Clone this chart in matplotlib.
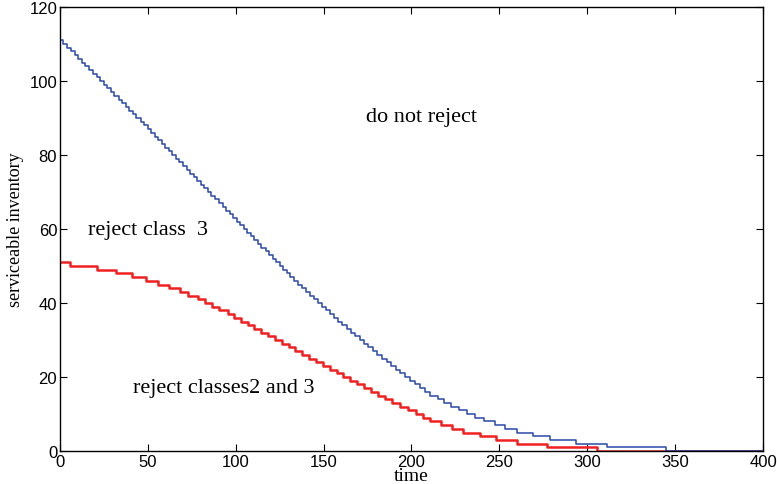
import matplotlib
matplotlib.use("Agg")
import matplotlib.pyplot as plt
import numpy as np

# inventory level drops by one at each of these times
blue_start = 111
blue_drop_times = [
    2, 4, 6, 8.5, 10.5, 12.5, 14.5, 16.5, 19, 21, 23, 25, 27, 29, 31, 33.5,
    35.5, 37.5, 39.5, 41.5, 43.5, 46, 48, 50, 52, 54, 56, 58, 60, 62, 64, 66, 68,
    70, 72, 74, 76, 78, 80, 82, 84, 86, 88, 90.5, 92.5, 94.5, 96.5, 98.5, 100.5,
    102.5, 104.5, 106.5, 108.5, 110.5, 112.5, 114.5, 117, 119, 121, 123, 125,
    127, 129, 131,
    133.2, 135.4, 137.6, 139.8, 142, 144.3, 146.6, 148.9, 151.2, 153.5, 155.9,
    158.3, 160.7, 163.1, 165.5, 168, 170.5, 173, 175.5, 178, 180.6, 183.2, 185.8,
    188.4, 191, 193.7, 196.4, 199.1, 201.9, 204.7, 207.7,
    210.5, 215.2, 218.5, 222.3, 227, 231.4, 236, 241, 247.5, 253.2, 260, 269.3,
    279, 293.6, 311, 345,
]

red_start = 51
red_drop_times = [
    5.7, 20.9, 31.9, 40.8, 48.7, 55.6, 62, 68.3, 73, 78.3, 82.5, 86.7, 90.7,
    95.4, 99, 102.8, 106.8, 110.6,
    114.5, 118.4, 122.3, 126.2, 130.1, 134, 137.9, 141.8, 145.7, 149.6, 153.5,
    157.4, 161.3, 165.2, 169.1, 173, 177, 181, 185, 189, 193.5, 198, 202.5, 206.5,
    210.5, 216.6, 222.9, 229.5, 239, 248.1, 259.9, 277.3, 305.3,
]

t_end = 400


def staircase(start, drops):
    t = np.concatenate([[0], drops, [t_end]])
    lvl = start - np.arange(len(drops) + 1)
    lvl = np.append(lvl, lvl[-1])
    return t, lvl


fig = plt.figure(figsize=(7.77, 4.85), dpi=100)
ax = fig.add_axes([0.0772, 0.068, 0.9048, 0.9155])

tb, yb = staircase(blue_start, blue_drop_times)
tr, yr = staircase(red_start, red_drop_times)
ax.step(tr, yr, where="post", color="#f02020", lw=1.8)
ax.step(tb, yb, where="post", color="#2a48a8", lw=1.1)

ax.set_xlim(0, 400)
ax.set_ylim(0, 120)
ax.set_xticks(range(0, 401, 50))
ax.set_yticks(range(0, 121, 20))
ax.tick_params(direction="in", top=True, right=True, length=5, width=0.8,
               labelsize=12, pad=2)
for lab in ax.get_xticklabels() + ax.get_yticklabels():
    lab.set_family("Liberation Sans")
for s in ax.spines.values():
    s.set_linewidth(1.0)

serif = "Liberation Serif"
ax.text(205.5, 90.3, "do not reject", ha="center", va="center",
        fontsize=16, family=serif)
ax.text(16, 60, "reject class  3", ha="left", va="center",
        fontsize=16, family=serif)
ax.text(41.5, 17.3, "reject classes2 and 3", ha="left", va="center",
        fontsize=16, family=serif)

ax.set_xlabel("time", fontsize=14, family=serif, labelpad=-1)
ax.set_ylabel("serviceable inventory", fontsize=13, family=serif, labelpad=4)

fig.savefig("out.png", dpi=100)
